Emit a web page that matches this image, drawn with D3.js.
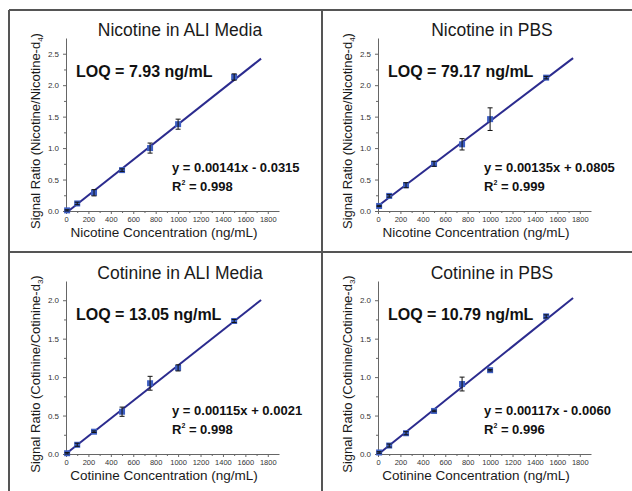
<!DOCTYPE html>
<html>
<head>
<meta charset="utf-8">
<script src="https://cdn.jsdelivr.net/npm/d3@7"></script>
<style>
  body { margin: 0; background: #fff; }
  svg text { font-family: "Liberation Sans", Arial, sans-serif; }
</style>
</head>
<body>
<div id="chart"></div>
<script>
// ---- data ----
var concentrations = [10, 100, 250, 500, 750, 1000, 1500];

var nicotineAliMean = [0.01, 0.12, 0.29, 0.65, 1.00, 1.38, 2.13];
var nicotineAliSd   = [0.01, 0.02, 0.05, 0.02, 0.08, 0.08, 0.05];
var nicotinePbsMean = [0.08, 0.24, 0.41, 0.75, 1.06, 1.46, 2.12];
var nicotinePbsSd   = [0.01, 0.02, 0.04, 0.04, 0.09, 0.18, 0.02];
var cotinineAliMean = [0.01, 0.12, 0.29, 0.55, 0.92, 1.12, 1.73];
var cotinineAliSd   = [0.01, 0.02, 0.01, 0.06, 0.09, 0.04, 0.02];
var cotininePbsMean = [0.02, 0.11, 0.27, 0.56, 0.91, 1.09, 1.79];
var cotininePbsSd   = [0.01, 0.02, 0.02, 0.01, 0.09, 0.01, 0.02];

var fitSlopes     = [0.00141, 0.00135, 0.00115, 0.00117];
var fitIntercepts = [-0.0315, 0.0805, 0.0021, -0.0060];
var fitEnd = 1740;

var titles = ["Nicotine in ALI Media", "Nicotine in PBS", "Cotinine in ALI Media", "Cotinine in PBS"];
var loqLabels = ["LOQ = 7.93 ng/mL", "LOQ = 79.17 ng/mL", "LOQ = 13.05 ng/mL", "LOQ = 10.79 ng/mL"];
var equationLabels = ["y = 0.00141x - 0.0315", "y = 0.00135x + 0.0805", "y = 0.00115x + 0.0021", "y = 0.00117x - 0.0060"];
var r2Labels = ["0.998", "0.999", "0.998", "0.996"];
var analytes = ["Nicotine", "Nicotine", "Cotinine", "Cotinine"];
var deuterium = ["4", "4", "3", "3"];

var xTicks = [0, 200, 400, 600, 800, 1000, 1200, 1400, 1600, 1800];
var nicotineYTicks = [0, 0.5, 1.0, 1.5, 2.0, 2.5];
var cotinineYTicks = [0, 0.5, 1.0, 1.5, 2.0];
var yMax = [2.75, 2.75, 2.25, 2.25];

var means = [nicotineAliMean, nicotinePbsMean, cotinineAliMean, cotininePbsMean];
var sds = [nicotineAliSd, nicotinePbsSd, cotinineAliSd, cotininePbsSd];

// ---- layout ----
var width = 632, height = 491;
var plotW = 213, plotH = 173;
var markerColor = "#3d5ec2", lineColor = "#2b2b8e", frameColor = "#555";

var svg = d3.select("#chart").append("svg")
  .attr("width", width)
  .attr("height", height);

// panel frame
var frame = svg.append("g").attr("stroke", frameColor).attr("stroke-width", 2);
frame.append("line").attr("x1", 9).attr("x2", width).attr("y1", 10).attr("y2", 10);
frame.append("line").attr("x1", 9).attr("x2", 9).attr("y1", 10).attr("y2", height);
frame.append("line").attr("x1", 322).attr("x2", 322).attr("y1", 10).attr("y2", height);
frame.append("line").attr("x1", 9).attr("x2", width).attr("y1", 252).attr("y2", 252);

var x = d3.scaleLinear().domain([0, 1900]).range([0, plotW]);

titles.forEach(function(title, i){
  var col = i % 2, row = Math.floor(i / 2);
  var left = 66 + col * 312;
  var bottom = 211 + row * 243;
  var y = d3.scaleLinear().domain([0, yMax[i]]).range([plotH, 0]);
  var yTicks = i < 2 ? nicotineYTicks : cotinineYTicks;

  var g = svg.append("g").attr("transform", "translate(" + left + "," + (bottom - plotH) + ")");

  // axes
  var xAxis = g.append("g").attr("transform", "translate(0," + plotH + ")")
    .call(d3.axisBottom(x).tickValues(xTicks).tickSize(3).tickSizeOuter(0).tickFormat(d3.format("d")));
  g.append("g").attr("transform", "translate(0," + plotH + ")")
    .call(d3.axisBottom(x).tickValues(d3.range(100, 1900, 200)).tickSize(2).tickSizeOuter(0).tickFormat(""))
    .select(".domain").remove();
  var yAxis = g.append("g")
    .call(d3.axisLeft(y).tickValues(yTicks).tickSize(3).tickSizeOuter(0).tickFormat(d3.format(".1f")));
  g.append("g")
    .call(d3.axisLeft(y).tickValues(d3.range(0.25, yMax[i], 0.5)).tickSize(2).tickSizeOuter(0).tickFormat(""))
    .select(".domain").remove();

  g.selectAll(".domain, .tick line").attr("stroke", "#666");
  xAxis.selectAll(".tick text").attr("font-size", 7.5).attr("fill", "#333").attr("dy", "0.6em");
  yAxis.selectAll(".tick text").attr("font-size", 8).attr("fill", "#333").attr("dx", "-1px");

  // fit line, clipped at y = 0
  var m = fitSlopes[i], b = fitIntercepts[i];
  var x0 = Math.max(0, -b / m);
  g.append("line")
    .attr("x1", x(x0)).attr("y1", y(m * x0 + b))
    .attr("x2", x(fitEnd)).attr("y2", y(m * fitEnd + b))
    .attr("stroke", lineColor).attr("stroke-width", 2);

  // points with error bars
  var pts = concentrations.map(function(c, k){ return {c: c, v: means[i][k], sd: sds[i][k]}; });
  var pg = g.selectAll("g.pt").data(pts).enter().append("g").classed("pt", true);
  pg.append("rect")
    .attr("x", function(d){ return x(d.c) - 3; })
    .attr("y", function(d){ return y(d.v) - 3; })
    .attr("width", 6).attr("height", 6)
    .attr("fill", markerColor);
  pg.append("line")
    .attr("x1", function(d){ return x(d.c); }).attr("x2", function(d){ return x(d.c); })
    .attr("y1", function(d){ return y(d.v - d.sd); }).attr("y2", function(d){ return y(d.v + d.sd); })
    .attr("stroke", "#111").attr("stroke-width", 1);
  [1, -1].forEach(function(s){
    pg.append("line")
      .attr("x1", function(d){ return x(d.c) - 2.5; }).attr("x2", function(d){ return x(d.c) + 2.5; })
      .attr("y1", function(d){ return y(d.v + s * d.sd); }).attr("y2", function(d){ return y(d.v + s * d.sd); })
      .attr("stroke", "#111").attr("stroke-width", 1);
  });

  // texts (positions relative to the axis origin)
  svg.append("text")
    .attr("x", left + 114).attr("y", bottom - 175)
    .attr("text-anchor", "middle").attr("font-size", 17.5).attr("fill", "#1a1a1a")
    .text(title);

  svg.append("text")
    .attr("x", left + 10).attr("y", bottom - 134)
    .attr("font-size", 16).attr("font-weight", "bold").attr("fill", "#111")
    .text(loqLabels[i]);

  svg.append("text")
    .attr("x", left + 106).attr("y", bottom - 39)
    .attr("font-size", 13).attr("font-weight", "bold").attr("fill", "#111")
    .text(equationLabels[i]);

  var r2 = svg.append("text")
    .attr("x", left + 106).attr("y", bottom - 20)
    .attr("font-size", 13).attr("font-weight", "bold").attr("fill", "#111");
  r2.append("tspan").text("R");
  r2.append("tspan").attr("font-size", 7).attr("dy", -6).text("2");
  r2.append("tspan").attr("dy", 6).text(" = " + r2Labels[i]);

  svg.append("text")
    .attr("x", left + 98).attr("y", bottom + 26)
    .attr("text-anchor", "middle").attr("font-size", 13.5).attr("fill", "#1a1a1a")
    .text(analytes[i] + " Concentration (ng/mL)");

  var yl = svg.append("text")
    .attr("transform", "translate(" + (left - 26) + "," + (bottom - 80) + ") rotate(-90)")
    .attr("text-anchor", "middle").attr("font-size", 13).attr("fill", "#1a1a1a");
  yl.append("tspan").text("Signal Ratio (" + analytes[i] + "/" + analytes[i] + "-d");
  yl.append("tspan").attr("font-size", 8).attr("dy", 3).text(deuterium[i]);
  yl.append("tspan").attr("dy", -3).text(")");
});
</script>
</body>
</html>
